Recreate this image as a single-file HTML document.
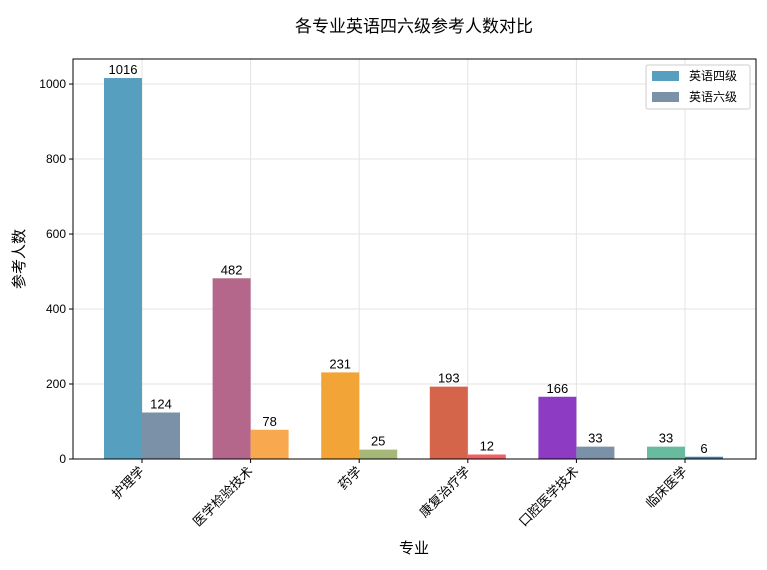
<!DOCTYPE html>
<html><head><meta charset="utf-8"><style>
body{margin:0;background:#fff;font-family:"Liberation Sans","Noto Sans CJK SC",sans-serif;}
svg text{font-family:"Liberation Sans","Noto Sans CJK SC",sans-serif;}
</style></head><body>
<svg id="chart" width="767" height="565" xmlns="http://www.w3.org/2000/svg">
<text x="414" y="32" font-size="17" text-anchor="middle" fill="#000">各专业英语四六级参考人数对比</text>
<g id="grid"></g><g id="bars"></g><g id="axes"></g>
<text x="414" y="553" font-size="15" text-anchor="middle">专业</text>
<text transform="translate(24,259) rotate(-90)" font-size="15" text-anchor="middle">参考人数</text>
<g>
<rect x="646" y="65" width="104" height="44" fill="#fff" stroke="#ccc" rx="2"/>
<rect x="652" y="71" width="27" height="10" fill="#569fbf"/>
<text x="689" y="80" font-size="12">英语四级</text>
<rect x="652" y="92" width="27" height="10" fill="#7b91a8"/>
<text x="689" y="101" font-size="12">英语六级</text>
</g>
</svg>
<script>
const categories=["护理学","医学检验技术","药学","康复治疗学","口腔医学技术","临床医学"];
const cet4=[1016,482,231,193,166,33];
const cet6=[124,78,25,12,33,6];
const yTicks=[0,200,400,600,800,1000];
const colors4=["#569fbf","#b5668b","#f2a536","#d4654a","#8e3bc4","#68bb9e"];
const colors6=["#7b91a8","#f8a84e","#a6b878","#f06060","#7b91a8","#3f7fb0"];
const L=73,R=756,T=59,B=459;
const ymax=Math.max(...cet4,...cet6)*1.05;
const y=v=>B-v/ymax*(B-T);
const step=108.6;
const x=i=>142+i*step;
const bw=38;
const NS="http://www.w3.org/2000/svg";
function mk(tag,attrs,parent,text){const e=document.createElementNS(NS,tag);for(const k in attrs)e.setAttribute(k,attrs[k]);if(text!==undefined)e.textContent=text;parent.appendChild(e);return e;}
const grid=document.getElementById('grid'),bars=document.getElementById('bars'),axes=document.getElementById('axes');
yTicks.forEach(t=>{
 const g=mk('line',{x1:L,x2:R,y1:y(t),y2:y(t),stroke:'#e3e3e3'},grid);
 
 
 mk('line',{x1:L-4,x2:L,y1:y(t),y2:y(t),stroke:'#000'},axes);
 const tl=mk('text',{x:L-7,y:y(t)+4,'font-size':12,'text-anchor':'end'},axes,String(t));
 
 
});
categories.forEach((c,i)=>{
 const g=mk('line',{x1:x(i),x2:x(i),y1:T,y2:B,stroke:'#e3e3e3'},grid);
 
 
 const b4=mk('rect',{x:x(i)-bw,y:y(cet4[i]),width:bw,height:B-y(cet4[i]),fill:colors4[i]},bars);
 
 
 const b6=mk('rect',{x:x(i),y:y(cet6[i]),width:bw,height:B-y(cet6[i]),fill:colors6[i]},bars);
 
 
 const v4=mk('text',{x:x(i)-bw/2,y:y(cet4[i])-4,'font-size':13,'text-anchor':'middle'},bars,String(cet4[i]));
 
 
 const v6=mk('text',{x:x(i)+bw/2,y:y(cet6[i])-4,'font-size':13,'text-anchor':'middle'},bars,String(cet6[i]));
 
 
 mk('line',{x1:x(i),x2:x(i),y1:B,y2:B+4,stroke:'#000'},axes);
 const xl=mk('text',{transform:`translate(${x(i)+3},${B+13}) rotate(-45)`,'font-size':13,'text-anchor':'end'},axes,c);
 
 
});
const f=mk('rect',{x:L,y:T,width:R-L,height:B-T,fill:'none',stroke:'#000','stroke-width':1},axes);


</script>
</body></html>
